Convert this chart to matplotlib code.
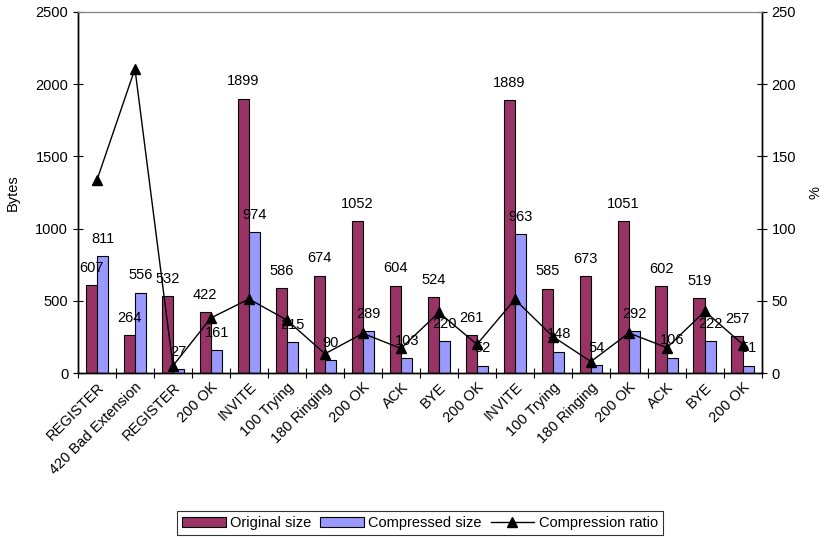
import matplotlib.pyplot as plt
import numpy as np

plt.rcParams['font.family'] = ['Liberation Sans', 'DejaVu Sans']

messages = ["REGISTER", "420 Bad Extension", "REGISTER", "200 OK", "INVITE",
            "100 Trying", "180 Ringing", "200 OK", "ACK", "BYE", "200 OK",
            "INVITE", "100 Trying", "180 Ringing", "200 OK", "ACK", "BYE", "200 OK"]
original = [607, 264, 532, 422, 1899, 586, 674, 1052, 604, 524, 261,
            1889, 585, 673, 1051, 602, 519, 257]
compressed = [811, 556, 27, 161, 974, 215, 90, 289, 103, 220, 52,
              963, 148, 54, 292, 106, 222, 51]
ratio = [133.6, 210.6, 5.1, 38.2, 51.3, 36.7, 13.4, 27.5, 17.1, 42.0, 19.9,
         51.0, 25.3, 8.0, 27.8, 17.6, 42.8, 19.8]

x = np.arange(len(messages))
w = 0.3

fig = plt.figure(figsize=(8.25, 5.4), dpi=100)
ax = fig.add_axes([0.0945, 0.309, 0.829, 0.669])
ax2 = ax.twinx()

b1 = ax.bar(x - w / 2, original, w, color="#993366", edgecolor="black", linewidth=0.8,
            label="Original size", zorder=2)
b2 = ax.bar(x + w / 2, compressed, w, color="#9999FF", edgecolor="black", linewidth=0.8,
            label="Compressed size", zorder=2)

for bars, vals in ((b1, original), (b2, compressed)):
    for r, v in zip(bars, vals):
        ax.annotate(str(v), (r.get_x() + r.get_width() / 2, v), xytext=(0, 12.5),
                    textcoords="offset points", ha="center", va="center", fontsize=10.5,
                    zorder=5)

ln, = ax2.plot(x, ratio, color="black", linewidth=1, marker="^", markersize=7,
               label="Compression ratio", zorder=4)

ax.set_xlim(-0.5, len(messages) - 0.5)
ax.set_ylim(0, 2500)
ax.set_yticks(range(0, 2501, 500))
ax2.set_ylim(0, 250)
ax2.set_yticks(range(0, 251, 50))

ax.set_xticks(x)
ax.set_xticklabels(messages, rotation=45, ha="right", rotation_mode="anchor", fontsize=10.5)
ax.set_xticks(np.arange(-0.5, len(messages)), minor=True)
ax.tick_params(axis="x", which="major", length=0, pad=5)
ax.tick_params(axis="x", which="minor", direction="inout", length=7, width=0.8)
ax.tick_params(axis="y", direction="inout", length=7, width=0.8, labelsize=10.5)
ax2.tick_params(axis="y", direction="inout", length=7, width=0.8, labelsize=10.5)

ax.set_ylabel("Bytes", fontsize=10.5, labelpad=11)
ax2.set_ylabel("%", fontsize=10.5, labelpad=9)

for a in (ax, ax2):
    a.spines["top"].set_color("#808080")
    a.spines["left"].set_linewidth(1)
    a.spines["right"].set_linewidth(1)
    a.spines["bottom"].set_linewidth(1)

leg = fig.legend([b1, b2, ln], ["Original size", "Compressed size", "Compression ratio"],
                 loc="center", bbox_to_anchor=(0.509, 0.031), ncol=3, fontsize=10.5,
                 frameon=True, fancybox=False, edgecolor="black", handlelength=3,
                 handletextpad=0.3, columnspacing=0.6, borderpad=0.35)
leg.get_frame().set_linewidth(0.8)

fig.savefig("out.png", dpi=100)
